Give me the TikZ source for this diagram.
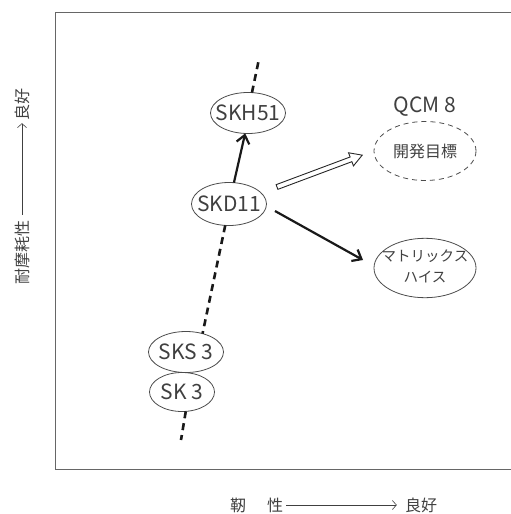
\documentclass[tikz,border=0pt]{standalone}
\usepackage{fontspec}
\setmainfont{Noto Sans CJK JP}
\usetikzlibrary{shapes.geometric,arrows.meta,calc}
\begin{document}
\begin{tikzpicture}[x=1pt,y=-1pt,
  el/.style={ellipse,draw=black!70,line width=0.8pt,inner sep=0pt,outer sep=0pt,text=black!75},
  big/.style={font=\fontsize{21}{21}\selectfont},
  dashln/.style={line width=2.6pt,dash pattern=on 7pt off 5pt,black!90},
  solidarr/.style={line width=2.2pt,black!90,-{Straight Barb[length=8pt,width=13pt,line width=2.2pt]}},
  axlab/.style={text=black!75,font=\fontsize{16}{16}\selectfont,inner sep=0pt},
  axarr/.style={line width=0.6pt,black!75,-{Straight Barb[length=4pt,width=9pt]}}
]
\useasboundingbox (0,0) rectangle (511,514);
\draw[black!60,line width=0.8pt] (55,12) rectangle (530,469);

% nodes
\node[el,big,minimum width=75pt,minimum height=41pt] (skh) at (248,113) {\makebox[0pt]{SKH51}};
\node[el,big,minimum width=75pt,minimum height=43pt] (skd) at (229,204) {\makebox[0pt]{SKD11}};
\node[el,big,minimum width=75pt,minimum height=41pt] (sks) at (186,352) {\makebox[0pt]{SKS 3}};
\node[el,big,minimum width=65pt,minimum height=39pt] (sk) at (182,392) {\makebox[0pt]{SK 3}};
\node[el,dashed,dash pattern=on 5pt off 4pt,minimum width=102pt,minimum height=59pt,font=\fontsize{16}{16}\selectfont] (goal) at (425,151) {\makebox[0pt]{開発目標}};
\node[text=black!75,big,inner sep=0pt] (qcm) at (425,107) {QCM 8};
\node[el,minimum width=102pt,minimum height=58pt,font=\fontsize{14.5}{21}\selectfont] (mh) at (425,268) {\makebox[0pt]{\begin{tabular}{@{}c@{}}マトリックス\\ハイス\end{tabular}}};

% dashed trend line
\coordinate (t1) at (259,59);
\coordinate (b1) at (181,440);
\draw[dashln] (skh.79) -- (t1);
\draw[dashln] (skd.-100) -- (sks.48);
\draw[dashln] (sk.-79) -- (b1);

% arrows
\draw[solidarr] (skd.77) -- (skh.-98);
\coordinate (a1) at (275,211);
\coordinate (a2) at (363,260);
\draw[solidarr] (a1) -- (a2);

\coordinate (hs) at (277,187);
\begin{scope}[shift={(hs)},rotate=20.5]
\draw[line width=0.9pt,black!85,line join=miter] (0,2.5) -- (79,2.5) -- (79,7) -- (91,0) -- (79,-7) -- (79,-2.5) -- (0,-2.5) -- cycle;
\end{scope}

% axes labels
\node[axlab,rotate=90] (yl) at (22,252) {耐摩耗性};
\node[axlab,rotate=90] (yg) at (22,104) {良好};
\draw[axarr,shorten <=5pt,shorten >=3pt] (yl.east) -- (yg.west);

\node[axlab] (xl1) at (238,505) {靭};
\node[axlab] (xl2) at (275,505) {性};
\node[axlab] (xg) at (421,505) {良好};
\draw[axarr,shorten <=3pt,shorten >=8pt] (xl2.east) -- (xg.west);
\end{tikzpicture}
\end{document}
